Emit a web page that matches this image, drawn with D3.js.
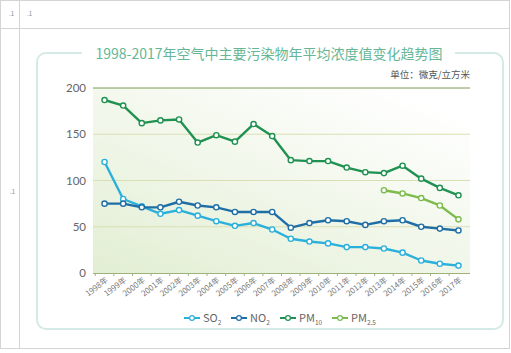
<!DOCTYPE html>
<html>
<head>
<meta charset="utf-8">
<script src="https://cdn.jsdelivr.net/npm/d3@7"></script>
<style>
  body { margin: 0; background: #fff; }
  svg { display: block; font-family: "Noto Sans CJK SC", "Noto Sans", sans-serif; }
</style>
</head>
<body>
<div id="chart"></div>
<script>
// data
const years = ["1998","1999","2000","2001","2002","2003","2004","2005","2006","2007",
               "2008","2009","2010","2011","2012","2013","2014","2015","2016","2017"];
const so2  = [120, 80, 72, 64, 68, 62, 56, 51, 54, 47, 37, 34, 32, 28, 28, 26.5, 22, 13.5, 10, 8];
const no2  = [75, 75, 71, 71, 77, 73, 71, 66, 66, 66, 49, 54, 57, 56, 52, 56, 57, 50, 48, 46];
const pm10 = [187, 181, 162, 165, 166, 141, 149, 142, 161, 148, 122, 121, 121, 114, 109, 108, 116, 102, 92, 84];
const pm25 = [null, null, null, null, null, null, null, null, null, null,
              null, null, null, null, null, 89.5, 86, 81, 73, 58];
const yTicks = [0, 50, 100, 150, 200];

const series = [
    {name: "SO", sub: "2", values: so2, color: "#2bb0dc"},
    {name: "NO", sub: "2", values: no2, color: "#1f6ea6"},
    {name: "PM", sub: "10", values: pm10, color: "#1f9150"},
    {name: "PM", sub: "2.5", values: pm25, color: "#7cbb4c"}
];

let width = 511, height = 353;

let svg = d3.select("#chart").append("svg")
    .attr("width", width)
    .attr("height", height);

// outer table lines
let grid = svg.append("g").attr("stroke", "#d4d4d4").attr("stroke-width", 1);
grid.append("rect").attr("x", 0.5).attr("y", 0.5).attr("width", 509).attr("height", 348).attr("fill", "none");
grid.append("line").attr("x1", 0).attr("x2", 510).attr("y1", 28.5).attr("y2", 28.5);
grid.append("line").attr("x1", 19.5).attr("x2", 19.5).attr("y1", 0).attr("y2", 349);

svg.append("g").attr("fill", "#888").attr("font-size", 6)
    .selectAll("text")
    .data([[9, 16], [27, 16], [10, 194]])
    .enter().append("text")
    .attr("x", d => d[0]).attr("y", d => d[1])
    .text(".1");

// panel
let defs = svg.append("defs");
let grad = defs.append("linearGradient")
    .attr("id", "bg").attr("x1", "0%").attr("y1", "100%").attr("x2", "80%").attr("y2", "0%");
grad.append("stop").attr("offset", "0%").attr("stop-color", "#e2eed3");
grad.append("stop").attr("offset", "100%").attr("stop-color", "#ffffff");

defs.append("clipPath").attr("id", "gap")
    .append("path")
    .attr("d", "M0,0H82V62H455V0H511V353H0Z");

svg.append("rect")
    .attr("x", 37).attr("y", 53).attr("width", 466).attr("height", 276)
    .attr("rx", 9)
    .attr("fill", "none")
    .attr("stroke", "#d3eae6")
    .attr("stroke-width", 2)
    .attr("clip-path", "url(#gap)");

svg.append("text")
    .attr("x", 269).attr("y", 59)
    .attr("text-anchor", "middle")
    .attr("font-size", 14)
    .attr("fill", "#66b796")
    .text("1998-2017年空气中主要污染物年平均浓度值变化趋势图");

svg.append("text")
    .attr("x", 470).attr("y", 78)
    .attr("text-anchor", "end")
    .attr("font-size", 9.5)
    .attr("fill", "#555")
    .text("单位：微克/立方米");

// scales
let plot = {left: 93, right: 470, top: 88, bottom: 273};

let x = d3.scalePoint()
    .domain(years)
    .range([plot.left, plot.right])
    .padding(0.62);

let y = d3.scaleLinear()
    .domain([0, 200])
    .range([plot.bottom, plot.top]);

svg.append("rect")
    .attr("x", plot.left).attr("y", plot.top)
    .attr("width", plot.right - plot.left).attr("height", plot.bottom - plot.top)
    .attr("fill", "url(#bg)");

// gridlines
svg.append("g")
    .selectAll("line")
    .data(yTicks.filter(d => d > 0))
    .enter().append("line")
    .attr("x1", plot.left).attr("x2", plot.right)
    .attr("y1", d => y(d)).attr("y2", d => y(d))
    .attr("stroke", d => d === 200 ? "#7a9a52" : "#d9dfb4")
    .attr("stroke-width", 1);

// y axis
let yAxis = svg.append("g")
    .attr("transform", `translate(${plot.left - 4},0)`)
    .call(d3.axisLeft(y).tickValues(yTicks).tickSize(0).tickPadding(3));
yAxis.select(".domain").remove();
yAxis.selectAll("text")
    .attr("font-size", 11.5)
    .attr("fill", "#666")
    .attr("font-family", "Lato, 'Noto Sans', sans-serif");

// x axis
let step = x.step();
svg.append("line")
    .attr("x1", plot.left).attr("x2", plot.right)
    .attr("y1", plot.bottom + 0.5).attr("y2", plot.bottom + 0.5)
    .attr("stroke", "#9fb27a").attr("stroke-width", 1.2);

svg.append("g")
    .selectAll("line")
    .data(years)
    .enter().append("line")
    .attr("x1", d => x(d) - step / 2).attr("x2", d => x(d) - step / 2)
    .attr("y1", plot.bottom).attr("y2", plot.bottom + 3)
    .attr("stroke", "#9fb27a");

svg.append("g")
    .selectAll("text")
    .data(years)
    .enter().append("text")
    .attr("transform", d => `translate(${x(d) + 4},${plot.bottom + 8}) rotate(-38)`)
    .attr("text-anchor", "end")
    .attr("font-size", 8)
    .attr("fill", "#777")
    .text(d => d + "年");

// lines
let line = d3.line()
    .defined(d => d.v != null)
    .x(d => x(d.year))
    .y(d => y(d.v));

series.forEach(s => {
    let pts = years.map((yr, i) => ({year: yr, v: s.values[i]}));
    svg.append("path")
        .datum(pts)
        .attr("d", line)
        .attr("fill", "none")
        .attr("stroke", s.color)
        .attr("stroke-width", 2.4)
        .attr("stroke-linejoin", "round");
    svg.append("g")
        .selectAll("circle")
        .data(pts.filter(d => d.v != null))
        .enter().append("circle")
        .attr("cx", d => x(d.year))
        .attr("cy", d => y(d.v))
        .attr("r", 2.6)
        .attr("fill", "#fff")
        .attr("stroke", s.color)
        .attr("stroke-width", 1.4);
});

// legend
let legendX = [184, 231, 280, 332];
let legend = svg.append("g")
    .selectAll("g")
    .data(series)
    .enter().append("g")
    .attr("transform", (d, i) => `translate(${legendX[i]},318)`);

legend.append("line")
    .attr("x1", 0).attr("x2", 16)
    .attr("stroke", d => d.color).attr("stroke-width", 2);
legend.append("circle")
    .attr("cx", 8).attr("r", 2.4)
    .attr("fill", "#fff")
    .attr("stroke", d => d.color).attr("stroke-width", 1.2);
let lt = legend.append("text")
    .attr("x", 19).attr("y", 4)
    .attr("font-size", 11)
    .attr("fill", "#666");
lt.append("tspan").text(d => d.name);
lt.append("tspan").attr("dy", 3).attr("font-size", 6.5).text(d => d.sub);
</script>
</body>
</html>
